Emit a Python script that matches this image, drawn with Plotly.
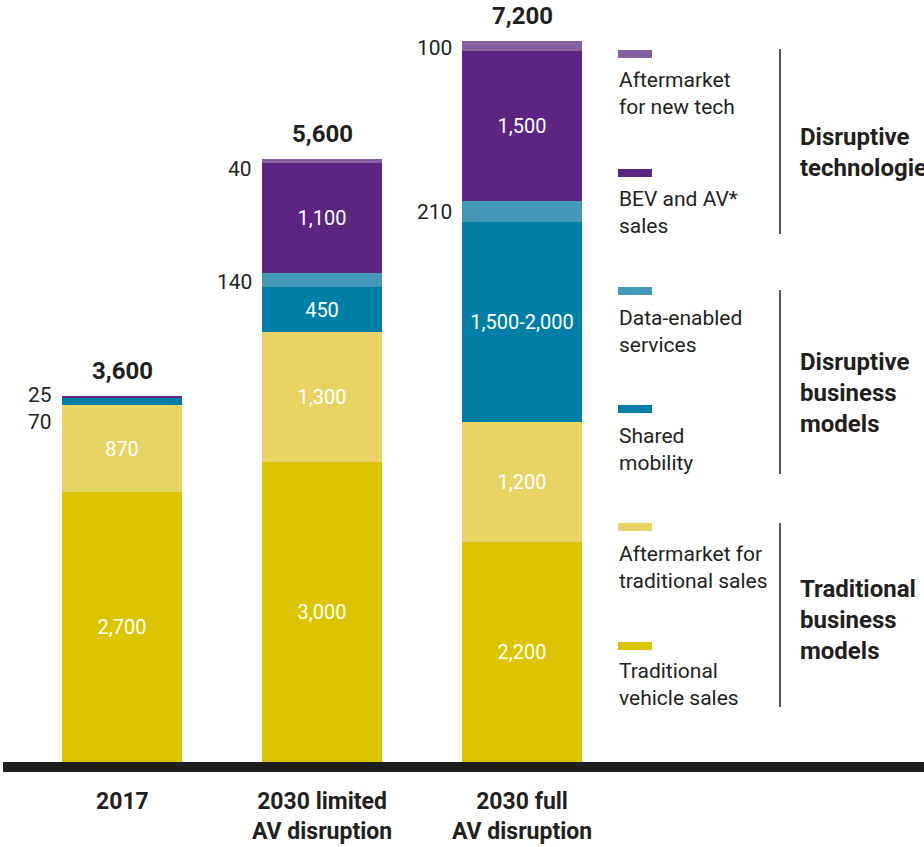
import plotly.graph_objects as go

# ---- data ($ billions) ----
categories = ["2017", "2030 limited<br>AV disruption", "2030 full<br>AV disruption"]
totals = [3600, 5600, 7200]
totals_text = ["3,600", "5,600", "7,200"]

traditional_sales = [2700, 3000, 2200]
traditional_sales_text = ["2,700", "3,000", "2,200"]
aftermarket_traditional = [870, 1300, 1200]
aftermarket_traditional_text = ["870", "1,300", "1,200"]
shared_mobility = [70, 450, 2000]
shared_mobility_text = ["70", "450", "1,500-2,000"]
data_services = [0, 140, 210]
data_services_text = ["", "140", "210"]
bev_av_sales = [25, 1100, 1500]
bev_av_sales_text = ["25", "1,100", "1,500"]
aftermarket_new_tech = [0, 40, 100]
aftermarket_new_tech_text = ["", "40", "100"]

series = [
    ("Traditional vehicle sales", traditional_sales, traditional_sales_text, "#DCC500"),
    ("Aftermarket for traditional sales", aftermarket_traditional, aftermarket_traditional_text, "#E7D465"),
    ("Shared mobility", shared_mobility, shared_mobility_text, "#007FA6"),
    ("Data-enabled services", data_services, data_services_text, "#4499B9"),
    ("BEV and AV* sales", bev_av_sales, bev_av_sales_text, "#5C2581"),
    ("Aftermarket for new tech", aftermarket_new_tech, aftermarket_new_tech_text, "#8560A0"),
]

# ---- geometry ----
W, H = 924, 847
PX_PER_UNIT = 0.1          # vertical scale
Y_MIN, Y_MAX = -100, 7620
PLOT_H = (Y_MAX - Y_MIN) * PX_PER_UNIT   # 772 px
BAR_W = 0.6
INSIDE_MIN = 300           # segments shorter than this get their label at the side
FONT = "Roboto"
DARK = "#231F20"


def py(p):
    """pixel row -> paper y"""
    return (PLOT_H - p) / PLOT_H


def px(p):
    """pixel column -> paper x"""
    return p / W


x = list(range(len(categories)))
fig = go.Figure()

for name, vals, labels, color in series:
    inside = [lab if v >= INSIDE_MIN else "" for v, lab in zip(vals, labels)]
    fig.add_trace(go.Bar(
        x=x, y=vals, name=name, width=BAR_W,
        marker=dict(color=color, line=dict(width=0)),
        text=inside, textposition="inside", insidetextanchor="middle",
        textangle=0, constraintext="none",
        textfont=dict(family=FONT, size=20, color="white"),
        hoverinfo="name+y",
    ))

annotations = []

# side labels for thin segments
side_shift = {(0, "Shared mobility"): -20, (0, "BEV and AV* sales"): 2,
              (1, "Aftermarket for new tech"): -8, (1, "Data-enabled services"): -2,
              (2, "Aftermarket for new tech"): -2}
for i in x:
    base = 0
    for name, vals, labels, color in series:
        v = vals[i]
        if 0 < v < INSIDE_MIN:
            annotations.append(dict(
                x=i - BAR_W / 2 - 0.04, y=base + v / 2, xref="x", yref="y",
                text=labels[i], showarrow=False, xanchor="right", yanchor="middle",
                yshift=side_shift.get((i, name), 0),
                font=dict(family=FONT, size=21, color=DARK)))
        base += v

# totals above bars
for i in x:
    top = sum(s[1][i] for s in series)
    annotations.append(dict(
        x=i, y=top, xref="x", yref="y", text=f"<b>{totals_text[i]}</b>",
        showarrow=False, xanchor="center", yanchor="bottom", yshift=9,
        font=dict(family=FONT, size=24, color=DARK)))

# category labels under the baseline
for i, c in enumerate(categories):
    annotations.append(dict(
        x=i, y=py(786), xref="x", yref="paper", text=f"<b>{c}</b>",
        showarrow=False, xanchor="center", yanchor="top",
        font=dict(family=FONT, size=23, color=DARK)))

# legend: swatch + text
legend_items = [
    ("Aftermarket<br>for new tech", "#8560A0", 54, 94),
    ("BEV and AV*<br>sales", "#5C2581", 173, 213),
    ("Data-enabled<br>services", "#4499B9", 291, 331),
    ("Shared<br>mobility", "#007FA6", 409, 449),
    ("Aftermarket for<br>traditional sales", "#E7D465", 527, 567),
    ("Traditional<br>vehicle sales", "#DCC500", 646, 684),
]
shapes = []
for text, color, sw_y, txt_y in legend_items:
    shapes.append(dict(type="rect", xref="paper", yref="paper",
                       x0=px(618), x1=px(652), y0=py(sw_y + 4), y1=py(sw_y - 4),
                       fillcolor=color, line=dict(width=0)))
    annotations.append(dict(
        x=px(617), y=py(txt_y), xref="paper", yref="paper", text=text,
        showarrow=False, xanchor="left", yanchor="middle", align="left",
        font=dict(family=FONT, size=21, color=DARK)))

# group brackets and titles
groups = [
    ("Disruptive<br>technologies", 49, 234, 152),
    ("Disruptive<br>business<br>models", 290, 474, 393),
    ("Traditional<br>business<br>models", 523, 707, 620),
]
for text, y0, y1, ty in groups:
    shapes.append(dict(type="line", xref="paper", yref="paper",
                       x0=px(780), x1=px(780), y0=py(y0), y1=py(y1),
                       line=dict(color=DARK, width=1.5)))
    annotations.append(dict(
        x=px(798), y=py(ty), xref="paper", yref="paper", text=f"<b>{text}</b>",
        showarrow=False, xanchor="left", yanchor="middle", align="left",
        font=dict(family=FONT, size=24, color=DARK)))

# thick baseline
shapes.append(dict(type="rect", xref="paper", yref="y",
                   x0=px(3), x1=1, y0=-100, y1=0,
                   fillcolor="#1E1E1C", line=dict(width=0), layer="above"))

x_left = -122 / 200
fig.update_layout(
    width=W, height=H,
    margin=dict(l=0, r=0, t=0, b=H - PLOT_H, pad=0),
    barmode="stack", bargap=0,
    showlegend=False,
    plot_bgcolor="white", paper_bgcolor="white",
    xaxis=dict(range=[x_left, x_left + W / 200], visible=False, fixedrange=True),
    yaxis=dict(range=[Y_MIN, Y_MAX], visible=False, fixedrange=True),
    font=dict(family=FONT, color=DARK),
    annotations=annotations, shapes=shapes,
    uniformtext=dict(mode=False),
)

fig.write_html("out.html")
